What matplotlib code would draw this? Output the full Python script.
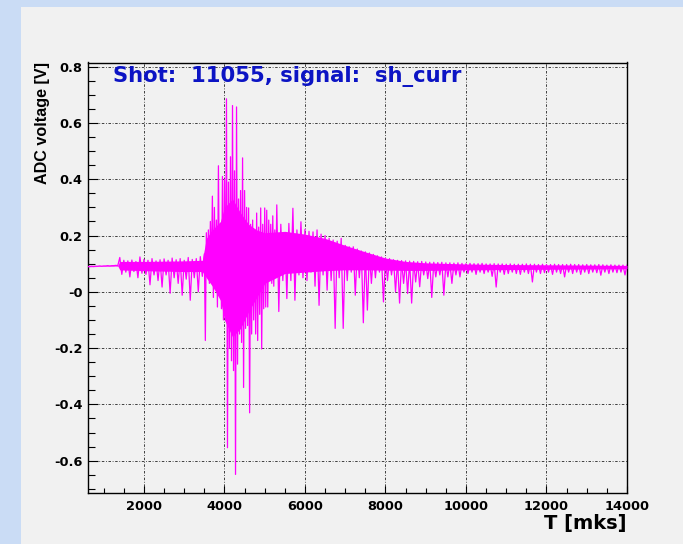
import matplotlib
matplotlib.use("Agg")
import matplotlib.pyplot as plt
from matplotlib.patches import Rectangle
from matplotlib.ticker import FixedLocator, MultipleLocator
import numpy as np

# ---------------- data ----------------
# dense core band of the signal (where the trace fills solidly)
core_t = [600, 1350, 1400, 2000, 3000, 3450, 3550, 3700, 3900, 4000, 4200, 4400,
          4600, 4800, 5000, 5500, 6000, 6500, 7000, 7500, 8000, 8500, 9000,
          10000, 11000, 12000, 13000, 14000]
core_hi = [0.091, 0.094, 0.108, 0.108, 0.110, 0.112, 0.19, 0.22, 0.25, 0.30, 0.33, 0.28,
           0.24, 0.22, 0.21, 0.215, 0.205, 0.19, 0.165, 0.142, 0.12, 0.108, 0.103,
           0.099, 0.097, 0.096, 0.095, 0.094]
core_lo = [0.089, 0.092, 0.078, 0.075, 0.072, 0.072, 0.05, 0.02, -0.03, -0.10, -0.16, -0.13,
           -0.07, -0.02, 0.03, 0.065, 0.07, 0.075, 0.078, 0.078, 0.077, 0.076, 0.076,
           0.078, 0.079, 0.080, 0.081, 0.082]

# sampled trace: (high, low) pairs, section A every 100 mks
a_start, a_step = 600, 100
a_hi = [0.090, 0.091, 0.091, 0.092, 0.092, 0.093, 0.093, 0.094, 0.122, 0.112,
        0.110, 0.113, 0.108, 0.124, 0.115, 0.112, 0.118, 0.110, 0.114, 0.117,
        0.112, 0.120, 0.114, 0.118, 0.112, 0.122, 0.115, 0.118, 0.125]
a_lo = [0.090, 0.090, 0.091, 0.091, 0.092, 0.092, 0.093, 0.093, 0.062, 0.070,
        0.053, 0.072, 0.050, 0.066, 0.062, 0.025, 0.060, 0.040, 0.017, 0.060,
        -0.005, 0.050, 0.030, -0.012, 0.045, -0.030, 0.050, 0.000, 0.055]

# section B: burst, one pair every 50 mks
b_start, b_step = 3500, 50
b_hi = [0.135, 0.21, 0.22, 0.25, 0.34, 0.30, 0.255, 0.448, 0.24, 0.41,
        0.40, 0.686, 0.39, 0.48, 0.662, 0.43, 0.657, 0.33, 0.36, 0.476,
        0.36, 0.30, 0.298, 0.24, 0.255, 0.22, 0.28, 0.23, 0.298, 0.24,
        0.298, 0.29, 0.255, 0.24, 0.27, 0.22]
b_lo = [-0.173, 0.06, 0.03, 0.08, -0.02, 0.05, -0.054, 0.02, -0.06, -0.10,
        -0.08, -0.554, -0.20, -0.245, -0.28, -0.649, -0.257, -0.15, -0.18, -0.34,
        -0.13, -0.12, -0.43, -0.15, -0.10, -0.15, -0.173, -0.08, -0.203, -0.06,
        -0.054, -0.054, 0.05, 0.03, 0.02, 0.06]

# section C: decay and tail, one pair every 100 mks
c_start, c_step = 5300, 100
c_hi = [0.309, 0.240, 0.207, 0.243, 0.297, 0.220, 0.249, 0.222, 0.215, 0.213,
        0.220, 0.205, 0.200, 0.190, 0.184, 0.180, 0.190, 0.165, 0.160, 0.160,
        0.152, 0.145, 0.142, 0.138, 0.133, 0.128, 0.124, 0.120, 0.118, 0.114,
        0.112, 0.111, 0.110, 0.109, 0.108, 0.107, 0.108, 0.106, 0.105, 0.105,
        0.104, 0.105, 0.103, 0.103, 0.102, 0.103, 0.101, 0.100, 0.101, 0.100,
        0.100, 0.101, 0.099, 0.099, 0.100, 0.099, 0.099, 0.098, 0.099, 0.098,
        0.098, 0.098, 0.099, 0.098, 0.098, 0.097, 0.098, 0.097, 0.097, 0.098,
        0.097, 0.097, 0.097, 0.098, 0.097, 0.097, 0.096, 0.097, 0.096, 0.096,
        0.097, 0.096, 0.095, 0.096, 0.095, 0.095, 0.095]
c_lo = [-0.070, 0.040, -0.024, 0.040, -0.030, 0.060, 0.050, 0.040, 0.070, 0.020,
        -0.048, 0.060, 0.006, 0.040, -0.130, 0.050, -0.130, 0.040, 0.070, -0.012,
        0.050, -0.110, -0.065, 0.030, 0.050, 0.070, -0.036, 0.040, 0.060, 0.000,
        -0.040, 0.030, -0.006, -0.040, 0.035, 0.018, 0.060, 0.047, -0.020, 0.053,
        0.060, -0.012, 0.053, 0.030, 0.060, 0.053, 0.070, 0.065, 0.070, 0.062,
        0.070, 0.065, 0.070, 0.055, 0.017, 0.070, 0.062, 0.065, 0.070, 0.065,
        0.062, 0.070, 0.065, 0.035, 0.070, 0.065, 0.068, 0.070, 0.062, 0.070,
        0.065, 0.053, 0.070, 0.065, 0.070, 0.062, 0.070, 0.065, 0.070, 0.068,
        0.059, 0.070, 0.065, 0.070, 0.068, 0.070, 0.060]
end_t, end_v = 14000, 0.095

x_ticks = [2000, 4000, 6000, 8000, 10000, 12000, 14000]
x_labels = ["2000", "4000", "6000", "8000", "10000", "12000", "14000"]
y_ticks = [-0.6, -0.4, -0.2, 0.0, 0.2, 0.4, 0.6, 0.8]
y_labels = ["-0.6", "-0.4", "-0.2", "-0", "0.2", "0.4", "0.6", "0.8"]
title = "Shot:  11055, signal:  sh_curr"

# ---------------- build the sampled trace ----------------
t, v = [], []
for start, step, hi, lo in [(a_start, a_step, a_hi, a_lo),
                            (b_start, b_step, b_hi, b_lo),
                            (c_start, c_step, c_hi, c_lo)]:
    for i, (h, l) in enumerate(zip(hi, lo)):
        t.append(start + i * step)
        v.append(h)
        t.append(start + i * step + step / 2)
        v.append(l)
t.append(end_t)
v.append(end_v)

# ---------------- figure ----------------
W, H = 683, 544
fig = plt.figure(figsize=(W / 100, H / 100), dpi=100)
fig.patch.set_facecolor("#cadcf5")
fig.add_artist(Rectangle((21 / W, 0), 1 - 21 / W, (H - 7) / H,
                         transform=fig.transFigure, facecolor="#f1f1f1",
                         edgecolor="none", zorder=0))

L, R, T, B = 88, 627, 62.5, 493
ax = fig.add_axes([L / W, (H - B) / H, (R - L) / W, (B - T) / H])
ax.set_facecolor("#f1f1f1")
MAG = "#ff00ff"
ax.fill_between(core_t, core_lo, core_hi, color=MAG, lw=0, zorder=3)
ax.plot(t, v, color=MAG, lw=0.9, zorder=3)

ax.set_xlim(610, 14000)
ax.set_ylim(-0.715, 0.815)

ax.xaxis.set_major_locator(FixedLocator(x_ticks))
ax.set_xticklabels(x_labels)
ax.xaxis.set_minor_locator(MultipleLocator(500))
ax.yaxis.set_major_locator(FixedLocator(y_ticks))
ax.set_yticklabels(y_labels)
ax.yaxis.set_minor_locator(MultipleLocator(0.05))

ax.tick_params(which="both", direction="in", top=False, right=False, colors="black")
ax.tick_params(axis="x", which="major", length=5, width=0.8, pad=5)
ax.tick_params(axis="x", which="minor", length=3.3, width=0.8)
ax.tick_params(axis="y", which="major", length=7, width=0.8, pad=4)
ax.tick_params(axis="y", which="minor", length=5, width=0.8)
for lab in ax.get_xticklabels() + ax.get_yticklabels():
    lab.set_fontfamily("DejaVu Sans")
    lab.set_fontweight("bold")
    lab.set_fontsize(9.3)

ax.grid(True, which="major", color="#222222", linestyle=(0, (3, 2, 1, 2)), lw=0.6, zorder=1)
for s in ax.spines.values():
    s.set_linewidth(1.0)
    s.set_color("black")

ax.text(0.046, 0.968, title, transform=ax.transAxes, ha="left", va="center",
        fontsize=15.2, fontweight="bold", family="DejaVu Sans", color="#0c14c4", zorder=4)
ax.text(1.0, -0.07, "T [mks]", transform=ax.transAxes, ha="right", va="center",
        fontsize=14, fontweight="bold", family="DejaVu Sans", color="black")
ax.text(-0.0853, 1.0, "ADC voltage [V]", transform=ax.transAxes, ha="center", va="top",
        rotation=90, fontsize=11.6, fontweight="bold", family="Liberation Sans", color="black")

fig.savefig("out.png", dpi=100, facecolor=fig.get_facecolor())
